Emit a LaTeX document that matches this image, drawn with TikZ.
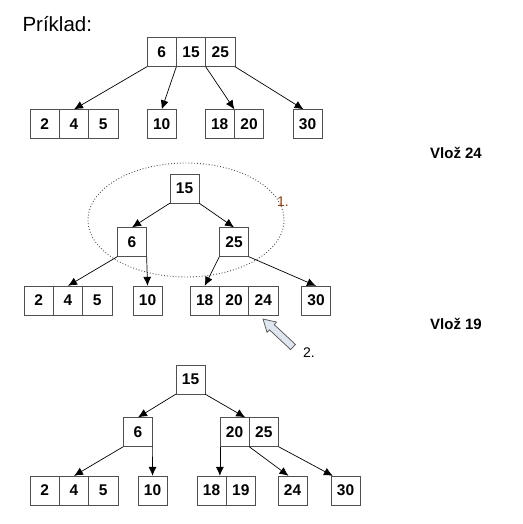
\documentclass[tikz,border=0pt]{standalone}
\usepackage{fontspec}
\setmainfont{Liberation Sans}
\usetikzlibrary{positioning,chains,arrows.meta}

\definecolor{boxline}{RGB}{80,80,80}
\definecolor{stepcol}{RGB}{150,60,10}
\definecolor{hintfill}{RGB}{222,230,240}

% one B-tree node: name, position, keys
\newcommand{\keybox}[3]{%
  \begin{scope}[shift={#2},start chain=going right,node distance=0pt]
  \foreach \v [count=\i] in {#3}
    \node[cell,on chain] (#1\i) {\v};
  \end{scope}}

\begin{document}
\begin{tikzpicture}[x=1pt,y=-1pt,
  cell/.style={draw=boxline,fill=white,minimum width=29.3pt,minimum height=29.3pt,
    inner sep=0pt,outer sep=0pt,font=\fontsize{15.5}{17}\selectfont\bfseries},
  link/.style={-{Latex[length=9pt,width=8pt]},black,line width=0.7pt},
  title/.style={font=\fontsize{15}{17}\selectfont\bfseries}
]
\useasboundingbox (0,0) rectangle (522,524);

\node[anchor=west,font=\fontsize{20.5}{22}\selectfont] (head) at (19,24) {Príklad:};

% tree before
\keybox{a}{(161.7,52)}{6,15,25}
\keybox{b}{(44.7,124)}{2,4,5}
\keybox{c}{(161.7,124)}{10}
\keybox{d}{(219.7,124)}{18,20}
\keybox{e}{(307.5,124)}{30}

\draw[link] (a1.south west) -- (b2.north);
\draw[link] (a1.south east) -- (c1.north);
\draw[link] (a2.south east) -- (d1.north east);
\draw[link] (a3.south east) -- ([xshift=-4pt]e1.north);

\node[title] (ins24) at (456,153) {Vlož 24};

% after inserting 24
\draw[boxline,dotted,line width=0.9pt] (186,220) ellipse [x radius=98,y radius=57];
\node[text=stepcol,font=\fontsize{14}{16}\selectfont] (one) at (283,202) {1.};

\keybox{f}{(184.5,188.5)}{15}
\keybox{g}{(132,242)}{6}
\keybox{h}{(234,242)}{25}
\keybox{k}{(38.7,300.5)}{2,4,5}
\keybox{l}{(147.5,300.5)}{10}
\keybox{m}{(204.7,300.5)}{18,20,24}
\keybox{n}{(316,300.5)}{30}

\draw[link] (f1.south west) -- (g1.north);
\draw[link] (f1.south east) -- (h1.north);
\draw[link] (g1.south west) -- (k2.north);
\draw[link] (g1.south east) -- (l1.north);
\draw[link] (h1.south west) -- (m1.north);
\draw[link] (h1.south east) -- (n1.north);

% overflow hint
\draw[boxline,fill=hintfill,line width=0.7pt,line join=miter]
  (263,319) -- (276.6,322.1) -- (274.2,324.6) -- (295.4,344.4)
  -- (290.6,349.6) -- (269.4,329.8) -- (267.0,332.3) -- cycle;
\node[font=\fontsize{14}{16}\selectfont] (two) at (309,353) {2.};

\node[title] (ins19) at (456,324) {Vlož 19};

% after inserting 19
\keybox{p}{(190.5,379.5)}{15}
\keybox{q}{(138,432)}{6}
\keybox{r}{(234.5,432)}{20,25}
\keybox{s}{(44.7,490.5)}{2,4,5}
\keybox{t}{(152.5,490.5)}{10}
\keybox{u}{(211.5,490.5)}{18,19}
\keybox{v}{(292.5,490.5)}{24}
\keybox{w}{(345.5,490.5)}{30}

\draw[link] (p1.south west) -- (q1.north);
\draw[link] (p1.south east) -- ([xshift=-4pt]r1.north east);
\draw[link] (q1.south west) -- (s2.north);
\draw[link] (q1.south east) -- (t1.north);
\draw[link] (r1.south west) -- (r1.south west |- u1.north);
\draw[link] (r1.south east) -- ([xshift=-4pt]v1.north);
\draw[link] (r2.south east) -- ([xshift=2pt]w1.north west);

\end{tikzpicture}
\end{document}
